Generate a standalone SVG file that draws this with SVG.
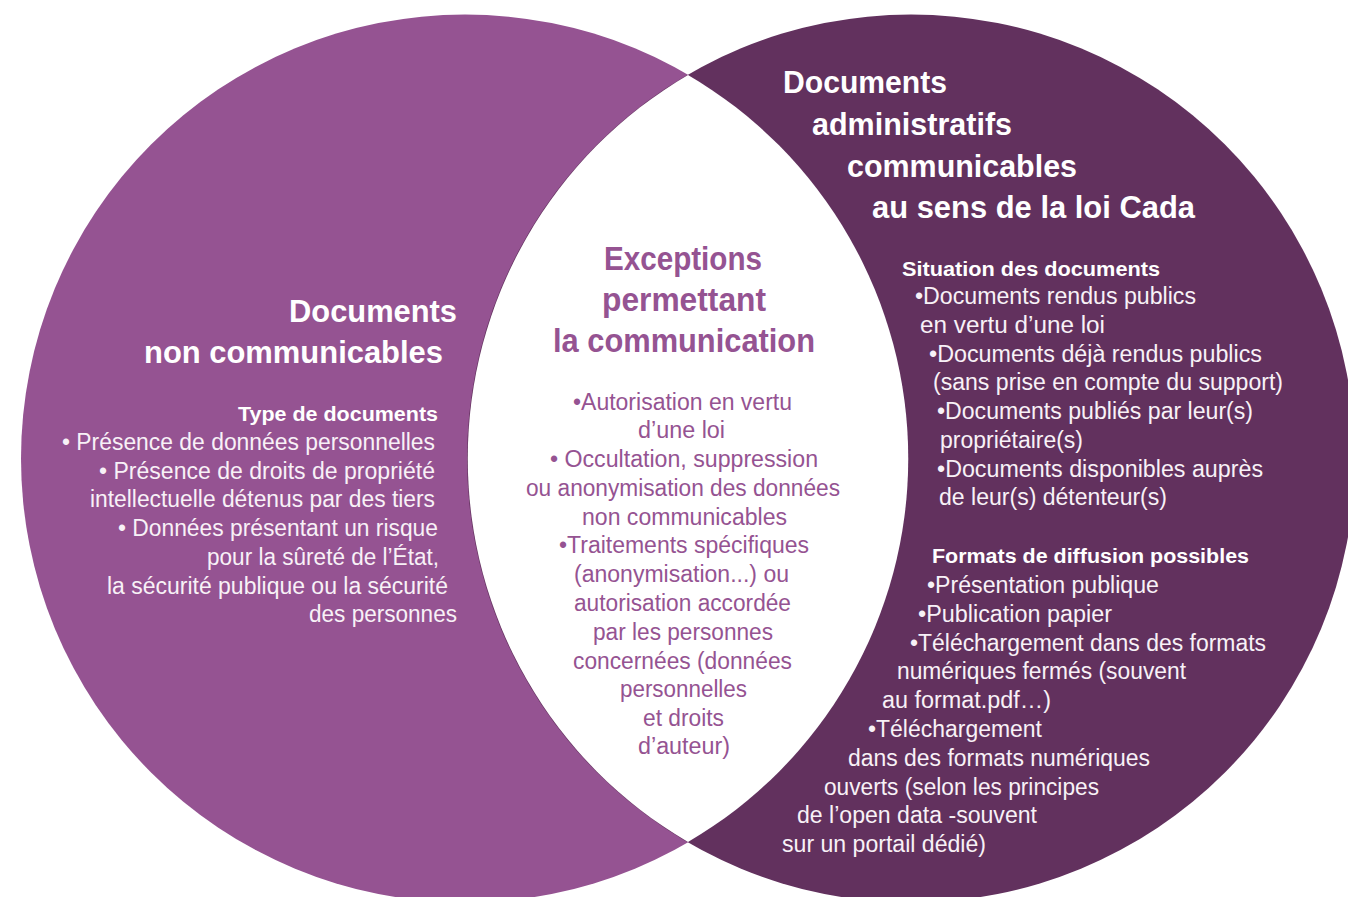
<svg xmlns="http://www.w3.org/2000/svg" width="1348" height="897" viewBox="0 0 1348 897">
<style>
text{font-family:"Liberation Sans",Arial,sans-serif;}
.ti{font-weight:bold;font-size:32px;fill:#ffffff;}
.tc{font-weight:bold;font-size:34px;fill:#955392;}
.sh{font-weight:bold;font-size:20px;fill:#ffffff;}
.bw{font-size:23px;fill:#f8f1f7;}
.bc{font-size:23px;fill:#955392;}
</style>
<rect width="1348" height="897" fill="#ffffff"/>
<g id="node-non-communicables">
<circle cx="465" cy="458.5" r="444" fill="#955392"/>
</g>
<g id="node-communicables">
<circle cx="911" cy="458.5" r="444" fill="#62315e"/>
</g>
<g id="node-exceptions">
<path d="M688 75 A444 444 0 0 1 688 842 A444 444 0 0 1 688 75 Z" fill="#ffffff"/>
</g>
<g id="connectors"/>
<g id="text-non-communicables">
<text class="ti" x="289" y="322" textLength="168" lengthAdjust="spacingAndGlyphs">Documents</text>
<text class="ti" x="144" y="363" textLength="299" lengthAdjust="spacingAndGlyphs">non communicables</text>
<text class="sh" x="238" y="421" textLength="200" lengthAdjust="spacingAndGlyphs">Type de documents</text>
<text class="bw" x="62" y="450" textLength="373" lengthAdjust="spacingAndGlyphs">• Présence de données personnelles</text>
<text class="bw" x="99" y="479" textLength="336" lengthAdjust="spacingAndGlyphs">• Présence de droits de propriété</text>
<text class="bw" x="90" y="507" textLength="345" lengthAdjust="spacingAndGlyphs">intellectuelle détenus par des tiers</text>
<text class="bw" x="118" y="536" textLength="320" lengthAdjust="spacingAndGlyphs">• Données présentant un risque</text>
<text class="bw" x="207" y="565" textLength="232" lengthAdjust="spacingAndGlyphs">pour la sûreté de l’État,</text>
<text class="bw" x="107" y="594" textLength="341" lengthAdjust="spacingAndGlyphs">la sécurité publique ou la sécurité</text>
<text class="bw" x="309" y="622" textLength="148" lengthAdjust="spacingAndGlyphs">des personnes</text>
</g>
<g id="text-exceptions">
<text class="tc" x="604" y="270" textLength="158" lengthAdjust="spacingAndGlyphs">Exceptions</text>
<text class="tc" x="602" y="311" textLength="164" lengthAdjust="spacingAndGlyphs">permettant</text>
<text class="tc" x="553" y="352" textLength="262" lengthAdjust="spacingAndGlyphs">la communication</text>
<text class="bc" x="573" y="410" textLength="219" lengthAdjust="spacingAndGlyphs">•Autorisation en vertu</text>
<text class="bc" x="638" y="438" textLength="87" lengthAdjust="spacingAndGlyphs">d’une loi</text>
<text class="bc" x="550" y="467" textLength="268" lengthAdjust="spacingAndGlyphs">• Occultation, suppression</text>
<text class="bc" x="526" y="496" textLength="314" lengthAdjust="spacingAndGlyphs">ou anonymisation des données</text>
<text class="bc" x="582" y="525" textLength="205" lengthAdjust="spacingAndGlyphs">non communicables</text>
<text class="bc" x="559" y="553" textLength="250" lengthAdjust="spacingAndGlyphs">•Traitements spécifiques</text>
<text class="bc" x="574" y="582" textLength="215" lengthAdjust="spacingAndGlyphs">(anonymisation...) ou</text>
<text class="bc" x="574" y="611" textLength="217" lengthAdjust="spacingAndGlyphs">autorisation accordée</text>
<text class="bc" x="593" y="640" textLength="180" lengthAdjust="spacingAndGlyphs">par les personnes</text>
<text class="bc" x="573" y="669" textLength="219" lengthAdjust="spacingAndGlyphs">concernées (données</text>
<text class="bc" x="620" y="697" textLength="127" lengthAdjust="spacingAndGlyphs">personnelles</text>
<text class="bc" x="643" y="726" textLength="81" lengthAdjust="spacingAndGlyphs">et droits</text>
<text class="bc" x="638" y="754" textLength="92" lengthAdjust="spacingAndGlyphs">d’auteur)</text>
</g>
<g id="text-communicables">
<text class="ti" x="783" y="93" textLength="164" lengthAdjust="spacingAndGlyphs">Documents</text>
<text class="ti" x="812" y="135" textLength="200" lengthAdjust="spacingAndGlyphs">administratifs</text>
<text class="ti" x="847" y="177" textLength="230" lengthAdjust="spacingAndGlyphs">communicables</text>
<text class="ti" x="872" y="218" textLength="323" lengthAdjust="spacingAndGlyphs">au sens de la loi Cada</text>
<text class="sh" x="902" y="276" textLength="258" lengthAdjust="spacingAndGlyphs">Situation des documents</text>
<text class="bw" x="915" y="304" textLength="281" lengthAdjust="spacingAndGlyphs">•Documents rendus publics</text>
<text class="bw" x="920" y="333" textLength="185" lengthAdjust="spacingAndGlyphs">en vertu d’une loi</text>
<text class="bw" x="929" y="362" textLength="333" lengthAdjust="spacingAndGlyphs">•Documents déjà rendus publics</text>
<text class="bw" x="933" y="390" textLength="350" lengthAdjust="spacingAndGlyphs">(sans prise en compte du support)</text>
<text class="bw" x="937" y="419" textLength="316" lengthAdjust="spacingAndGlyphs">•Documents publiés par leur(s)</text>
<text class="bw" x="940" y="448" textLength="143" lengthAdjust="spacingAndGlyphs">propriétaire(s)</text>
<text class="bw" x="937" y="477" textLength="326" lengthAdjust="spacingAndGlyphs">•Documents disponibles auprès</text>
<text class="bw" x="939" y="505" textLength="228" lengthAdjust="spacingAndGlyphs">de leur(s) détenteur(s)</text>
<text class="sh" x="932" y="563" textLength="317" lengthAdjust="spacingAndGlyphs">Formats de diffusion possibles</text>
<text class="bw" x="927" y="593" textLength="232" lengthAdjust="spacingAndGlyphs">•Présentation publique</text>
<text class="bw" x="918" y="622" textLength="194" lengthAdjust="spacingAndGlyphs">•Publication papier</text>
<text class="bw" x="910" y="651" textLength="356" lengthAdjust="spacingAndGlyphs">•Téléchargement dans des formats</text>
<text class="bw" x="897" y="679" textLength="289" lengthAdjust="spacingAndGlyphs">numériques fermés (souvent</text>
<text class="bw" x="882" y="708" textLength="169" lengthAdjust="spacingAndGlyphs">au format.pdf…)</text>
<text class="bw" x="868" y="737" textLength="174" lengthAdjust="spacingAndGlyphs">•Téléchargement</text>
<text class="bw" x="848" y="766" textLength="302" lengthAdjust="spacingAndGlyphs">dans des formats numériques</text>
<text class="bw" x="824" y="795" textLength="275" lengthAdjust="spacingAndGlyphs">ouverts (selon les principes</text>
<text class="bw" x="797" y="823" textLength="240" lengthAdjust="spacingAndGlyphs">de l’open data -souvent</text>
<text class="bw" x="782" y="852" textLength="204" lengthAdjust="spacingAndGlyphs">sur un portail dédié)</text>
</g>
</svg>
